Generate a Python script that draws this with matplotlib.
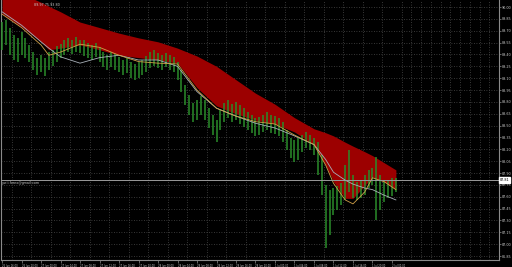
import matplotlib
matplotlib.use('Agg')
import matplotlib.pyplot as plt
import numpy as np

# ---- data ----
bar_highs = [89.81, 89.84, 89.74, 89.65, 89.61, 89.68, 89.61, 89.52, 89.43, 89.36,
             89.39, 89.36, 89.43, 89.46, 89.51, 89.53, 89.58, 89.61, 89.58, 89.62,
             89.58, 89.58, 89.55, 89.52, 89.55, 89.49, 89.43, 89.39, 89.43, 89.41,
             89.37, 89.33, 89.36, 89.31, 89.28, 89.31, 89.33, 89.38, 89.43, 89.46,
             89.42, 89.39, 89.42, 89.39, 89.37, 89.31, 89.20, 89.01, 88.89, 88.79,
             88.82, 88.87, 88.82, 88.72, 88.63, 88.57, 88.70, 88.79, 88.82, 88.77,
             88.80, 88.76, 88.72, 88.67, 88.63, 88.60, 88.61, 88.63, 88.67, 88.63,
             88.62, 88.60, 88.55, 88.44, 88.34, 88.32, 88.34, 88.38, 88.42, 88.38,
             88.34, 88.29, 88.13, 87.75, 87.69, 87.71, 87.74, 87.77, 88.00, 88.19,
             87.88, 87.79, 87.81, 87.88, 87.94, 87.96, 88.10, 87.88, 87.81, 87.81,
             87.84, 87.84]
bar_lows = [89.46, 89.52, 89.39, 89.33, 89.31, 89.39, 89.36, 89.31, 89.20, 89.14,
            89.18, 89.13, 89.20, 89.25, 89.31, 89.36, 89.39, 89.43, 89.41, 89.43,
            89.42, 89.38, 89.36, 89.33, 89.37, 89.31, 89.24, 89.20, 89.24, 89.20,
            89.18, 89.14, 89.17, 89.10, 89.08, 89.10, 89.14, 89.18, 89.23, 89.25,
            89.23, 89.20, 89.24, 89.20, 89.18, 89.08, 88.93, 88.76, 88.63, 88.55,
            88.57, 88.63, 88.57, 88.47, 88.38, 88.29, 88.44, 88.55, 88.60, 88.55,
            88.57, 88.52, 88.48, 88.44, 88.41, 88.37, 88.38, 88.42, 88.44, 88.41,
            88.39, 88.37, 88.29, 88.19, 88.09, 88.04, 88.07, 88.17, 88.22, 88.19,
            88.13, 87.88, 87.62, 86.95, 87.12, 87.37, 87.43, 87.50, 87.56, 87.66,
            87.58, 87.56, 87.58, 87.62, 87.71, 87.75, 87.31, 87.43, 87.53, 87.58,
            87.61, 87.66]

line_idx = [0, 5, 10, 12, 15, 20, 25, 30, 35, 40, 45, 50, 55, 60, 65, 70, 75, 80,
            83, 85, 88, 90, 93, 95, 98, 101]
band_top = [90.24, 90.17, 90.06, 90.01, 89.94, 89.81, 89.74, 89.67, 89.61, 89.56,
            89.48, 89.38, 89.25, 89.08, 88.91, 88.77, 88.60, 88.46, 88.41, 88.37,
            88.29, 88.24, 88.17, 88.12, 88.03, 87.94]
band_bottom = [89.92, 89.75, 89.56, 89.46, 89.48, 89.52, 89.46, 89.39, 89.36, 89.33,
               89.29, 88.98, 88.75, 88.65, 88.57, 88.52, 88.42, 88.26, 88.00, 87.79,
               87.58, 87.58, 87.74, 87.85, 87.79, 87.69]
ma_fast = [89.91, 89.74, 89.52, 89.39, 89.43, 89.53, 89.49, 89.39, 89.31, 89.29,
           89.28, 88.95, 88.72, 88.62, 88.55, 88.52, 88.38, 88.26, 88.00, 87.77,
           87.56, 87.51, 87.66, 87.84, 87.79, 87.69]
ma_slow = [89.94, 89.77, 89.56, 89.48, 89.37, 89.29, 89.36, 89.39, 89.33, 89.33,
           89.25, 88.93, 88.72, 88.62, 88.53, 88.47, 88.37, 88.26, 88.07, 87.91,
           87.81, 87.76, 87.71, 87.69, 87.62, 87.56]

price_ticks = [90.00, 89.85, 89.70, 89.55, 89.40, 89.25, 89.10, 88.95, 88.80, 88.65,
               88.50, 88.35, 88.20, 88.05, 87.90, 87.75, 87.60, 87.45, 87.30, 87.15,
               87.00, 86.85]
time_labels = ["26 Jun 16:00", "26 Jun 20:00", "27 Jun 00:00", "27 Jun 04:00",
               "27 Jun 08:00", "27 Jun 12:00", "27 Jun 16:00", "27 Jun 20:00",
               "28 Jun 00:00", "28 Jun 04:00", "28 Jun 08:00", "28 Jun 12:00",
               "28 Jun 16:00", "28 Jun 20:00", "1 Jul 00:00", "1 Jul 04:00",
               "1 Jul 08:00", "1 Jul 12:00", "1 Jul 16:00", "1 Jul 20:00",
               "2 Jul 00:00"]
time_label_bars = [0, 5, 10, 15, 20, 25, 30, 35, 40, 45, 50, 55, 60, 65, 70, 75,
                   80, 85, 90, 95, 100]
current_price = 87.81
header_text = "89.97 75.93 80"
signature = "yurii.forex@gmail.com"

# ---- figure ----
W, H = 512, 267
fig = plt.figure(figsize=(W / 100, H / 100), dpi=100, facecolor='black')
ax = fig.add_axes([1 / W, 7 / H, 498 / W, 260 / H], facecolor='black')

ax.set_xlim(-0.26, 127.44)
ax.set_ylim(86.80, 90.089)

grid_kw = dict(color='#4a4a4a', linestyle=(0, (1, 2)), linewidth=0.6)
ax.set_xticks(time_label_bars)
ax.set_xticklabels(time_labels)
ax.set_xticks(np.arange(0, 127.5, 2.5), minor=True)
ax.set_yticks(price_ticks)
ax.set_yticklabels([f"{p:.2f}" for p in price_ticks])
ax.grid(which='minor', axis='x', **grid_kw)
ax.grid(which='major', axis='y', **grid_kw)
ax.set_axisbelow(True)

# red band
ax.fill_between(line_idx, band_bottom, band_top, color='#9c0000', linewidth=0, zorder=2)

# bars
x = np.arange(len(bar_highs))
ax.vlines(x, bar_lows, bar_highs, color='#2a8c2a', linewidth=1.1, zorder=3)

# moving averages
ax.plot(line_idx, ma_slow, color='#a8b0b8', linewidth=0.6, zorder=4)
ax.plot(line_idx, ma_fast, color='#d0a048', linewidth=0.6, zorder=5)

# current price line
ax.axhline(current_price, color='#9a9a9a', linewidth=0.7, zorder=6)
ax.annotate(f"{current_price:.2f}", xy=(1.0, current_price),
            xycoords=('axes fraction', 'data'), xytext=(0.8, 0),
            textcoords='offset points', va='center', ha='left',
            fontsize=2.4, color='black',
            bbox=dict(boxstyle='square,pad=0.2', fc='white', ec='white'),
            annotation_clip=False, zorder=10)

# texts
ax.text(0.008, 87.77, signature, fontsize=2.4, color='#c8c8c8', va='center', ha='left', zorder=7)
ax.text(0.066, 0.99, header_text, transform=ax.transAxes, fontsize=2.4,
        color='#c8c8c8', va='top', ha='left', zorder=7)

# axis styling
for side in ['left', 'bottom', 'right']:
    ax.spines[side].set_color('#8a8a8a')
    ax.spines[side].set_linewidth(0.8)
ax.spines['top'].set_visible(False)
ax.yaxis.tick_right()
ax.tick_params(axis='y', which='major', length=1.5, width=0.5, color='#8a8a8a',
               labelsize=2.4, labelcolor='#c8c8c8', pad=0.8)
ax.tick_params(axis='x', which='major', length=2, width=0.5, color='#8a8a8a',
               labelsize=1.8, labelcolor='#c8c8c8', pad=0.6)
ax.tick_params(axis='x', which='minor', length=0)
for lbl in ax.get_xticklabels():
    lbl.set_ha('left')

fig.savefig('out.png', dpi=100, facecolor='black')
